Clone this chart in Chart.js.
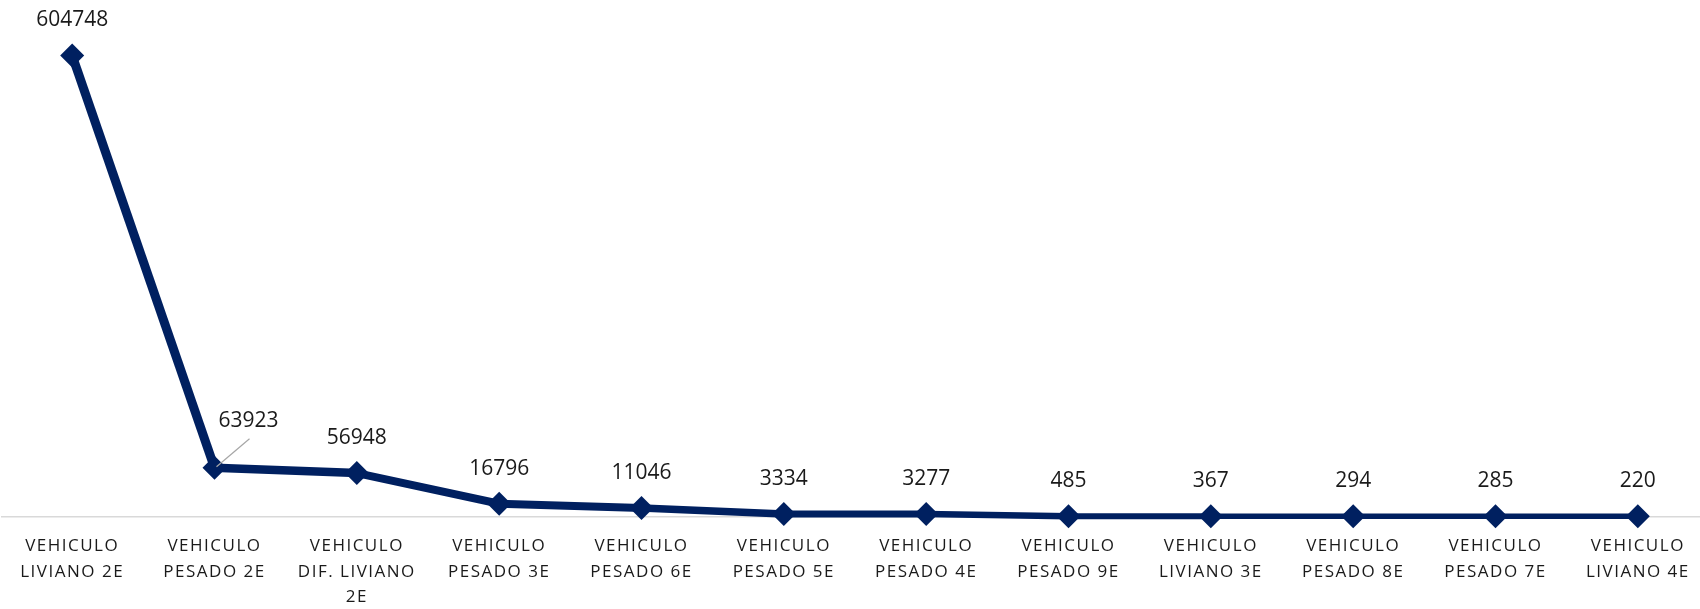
<!DOCTYPE html>
<html>
<head>
<meta charset="utf-8">
<script src="https://cdn.jsdelivr.net/npm/chart.js@4"></script>
<style>
  html, body { margin: 0; padding: 0; background: #fff; overflow: hidden; }
  #wrap { position: relative; width: 1708px; height: 627px; margin-left: 1px; }
</style>
</head>
<body>
<div id="wrap"><canvas id="myChart"></canvas></div>
<script>
const categories = [
  ['VEHICULO', 'LIVIANO 2E'],
  ['VEHICULO', 'PESADO 2E'],
  ['VEHICULO', 'DIF. LIVIANO', '2E'],
  ['VEHICULO', 'PESADO 3E'],
  ['VEHICULO', 'PESADO 6E'],
  ['VEHICULO', 'PESADO 5E'],
  ['VEHICULO', 'PESADO 4E'],
  ['VEHICULO', 'PESADO 9E'],
  ['VEHICULO', 'LIVIANO 3E'],
  ['VEHICULO', 'PESADO 8E'],
  ['VEHICULO', 'PESADO 7E'],
  ['VEHICULO', 'LIVIANO 4E']
];
const vehicles = [604748, 63923, 56948, 16796, 11046, 3334, 3277, 485, 367, 294, 285, 220];

const navy = 'rgb(0, 32, 96)';
// line gets a bit thinner towards the flat tail
const segmentWidths = [9, 8.5, 8, 8, 7.5, 7, 6.5, 6, 5.5, 5.5, 5.5];
// label 63923 sits off to the side with a leader line
const labelShift = { 1: { dx: 34, dy: -47 } };

const valueLabels = {
  id: 'valueLabels',
  beforeDraw(chart) {
    chart.ctx.letterSpacing = '1.5px';
  },
  beforeDatasetsDraw(chart) {
    chart.ctx.letterSpacing = '0px';
  },
  afterDatasetsDraw(chart) {
    const ctx = chart.ctx;
    const meta = chart.getDatasetMeta(0);
    ctx.save();
    ctx.letterSpacing = '0px';
    ctx.font = '21px "Open Sans"';
    ctx.fillStyle = '#1a1a1a';
    ctx.textAlign = 'center';
    ctx.textBaseline = 'middle';
    meta.data.forEach((pt, i) => {
      const shift = labelShift[i];
      let x = pt.x, y = pt.y - 35;
      if (shift) {
        x = pt.x + shift.dx;
        y = pt.y + shift.dy;
        ctx.strokeStyle = '#a6a6a6';
        ctx.lineWidth = 1.2;
        ctx.beginPath();
        ctx.moveTo(pt.x + 2, pt.y - 1);
        ctx.lineTo(pt.x + 35, pt.y - 29);
        ctx.stroke();
      }
      ctx.fillText(String(vehicles[i]), x, y);
    });
    ctx.restore();
  }
};

new Chart(document.getElementById('myChart'), {
  type: 'line',
  data: {
    labels: categories,
    datasets: [{
      data: vehicles,
      borderColor: navy,
      backgroundColor: navy,
      borderWidth: 8,
      segment: {
        borderWidth: c => segmentWidths[c.p0DataIndex]
      },
      pointStyle: 'rectRot',
      pointRadius: 12,
      pointBorderWidth: 0,
      pointBackgroundColor: navy,
      tension: 0,
      clip: false
    }]
  },
  options: {
    responsive: true,
    maintainAspectRatio: false,
    animation: false,
    layout: { autoPadding: false, padding: { top: 21, left: 0, right: 0, bottom: 0 } },
    plugins: {
      legend: { display: false },
      tooltip: { enabled: false }
    },
    scales: {
      x: {
        offset: true,
        grid: { display: false, drawTicks: false },
        border: { color: '#d9d9d9', width: 1.5 },
        ticks: {
          autoSkip: false,
          maxRotation: 0,
          padding: 17,
          color: '#1a1a1a',
          font: { family: '"Open Sans"', size: 17, lineHeight: 1.5 }
        }
      },
      y: {
        display: false,
        min: 0,
        max: 650000
      }
    }
  },
  plugins: [valueLabels]
});
</script>
</body>
</html>
